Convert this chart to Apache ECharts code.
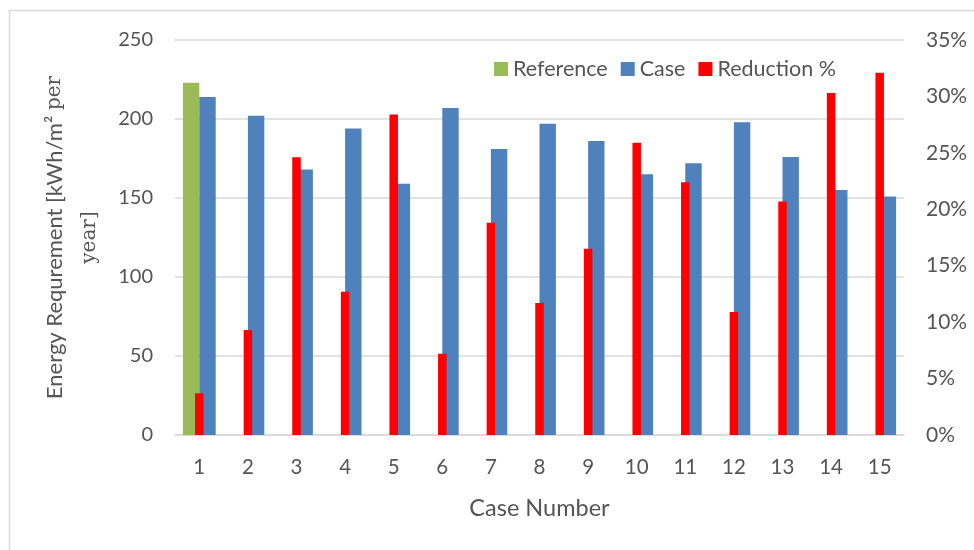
<!DOCTYPE html>
<html>
<head>
<meta charset="utf-8">
<script src="https://cdn.jsdelivr.net/npm/echarts@6/dist/echarts.min.js"></script>
<style>
html,body{margin:0;padding:0;background:#fff;}
#chart{width:974px;height:550px;}
</style>
</head>
<body>
<div id="chart"></div>
<script>
var cases = ['1','2','3','4','5','6','7','8','9','10','11','12','13','14','15'];
var referenceValues = [223, null, null, null, null, null, null, null, null, null, null, null, null, null, null];
var caseValues = [214, 202, 168, 194, 159, 207, 181, 197, 186, 165, 172, 198, 176, 155, 151];
var reductionPct = [3.7, 9.3, 24.6, 12.7, 28.4, 7.2, 18.8, 11.7, 16.5, 25.9, 22.4, 10.9, 20.7, 30.3, 32.1];
var leftTicks = {min: 0, max: 250, interval: 50};
var rightTicks = {min: 0, max: 35, interval: 5};

var FONT = 'Lato, "Open Sans", sans-serif';
var TXT = '#555555';
var GRID = '#d9d9d9';

var chart = echarts.init(document.getElementById('chart'), null, {renderer: 'canvas'});
chart.setOption({
  animation: false,
  backgroundColor: '#ffffff',
  textStyle: {fontFamily: FONT, color: TXT},
  graphic: [{
    type: 'rect', silent: true,
    shape: {x: 9.5, y: 10.5, width: 1000, height: 600},
    style: {fill: 'none', stroke: GRID, lineWidth: 1.5}
  }],
  grid: {left: 175, right: 70, top: 40, bottom: 115, containLabel: false},
  legend: {
    left: 489, top: 53,
    itemWidth: 14, itemHeight: 14, itemGap: 13,
    icon: 'rect',
    textStyle: {fontFamily: FONT, fontSize: 21.5, color: TXT},
    data: ['Reference', 'Case', 'Reduction %']
  },
  xAxis: [{
    type: 'category', data: cases,
    axisLine: {lineStyle: {color: GRID, width: 1.5}},
    axisTick: {show: false},
    axisLabel: {fontFamily: FONT, fontSize: 20.5, color: TXT, margin: 22},
    name: 'Case Number', nameLocation: 'middle', nameGap: 61,
    nameTextStyle: {fontFamily: FONT, fontSize: 23.5, color: TXT}
  }, {
    type: 'category', data: cases, show: false
  }],
  yAxis: [{
    type: 'value', min: leftTicks.min, max: leftTicks.max, interval: leftTicks.interval,
    axisLine: {show: false}, axisTick: {show: false},
    splitLine: {lineStyle: {color: GRID, width: 1.5}},
    axisLabel: {fontFamily: FONT, fontSize: 20, color: TXT, margin: 22},
    name: '{a|Energy Requrement [kWh/m² }{b|per}\n{b|year]}',
    nameLocation: 'middle', nameRotate: 90, nameGap: 63,
    nameTextStyle: {
      align: 'center', lineHeight: 35,
      rich: {
        a: {fontFamily: FONT, fontSize: 22, color: TXT, lineHeight: 35},
        b: {fontFamily: '"DejaVu Serif", "Liberation Serif", serif', fontSize: 20, color: TXT, lineHeight: 35}
      }
    }
  }, {
    type: 'value', position: 'right', min: rightTicks.min, max: rightTicks.max, interval: rightTicks.interval,
    axisLine: {show: false}, axisTick: {show: false}, splitLine: {show: false},
    axisLabel: {fontFamily: FONT, fontSize: 21, color: TXT, margin: 22, formatter: '{value}%'}
  }],
  series: [{
    name: 'Reference', type: 'bar', xAxisIndex: 0, yAxisIndex: 0,
    data: referenceValues, barWidth: 16.4, barGap: '0%',
    itemStyle: {color: '#9bbb59'}
  }, {
    name: 'Case', type: 'bar', xAxisIndex: 0, yAxisIndex: 0,
    data: caseValues, barWidth: 16.4, barGap: '0%',
    itemStyle: {color: '#4f81bd'}
  }, {
    name: 'Reduction %', type: 'bar', xAxisIndex: 1, yAxisIndex: 1,
    data: reductionPct, barWidth: 8.5,
    itemStyle: {color: '#ff0000'}
  }]
});
</script>
</body>
</html>
